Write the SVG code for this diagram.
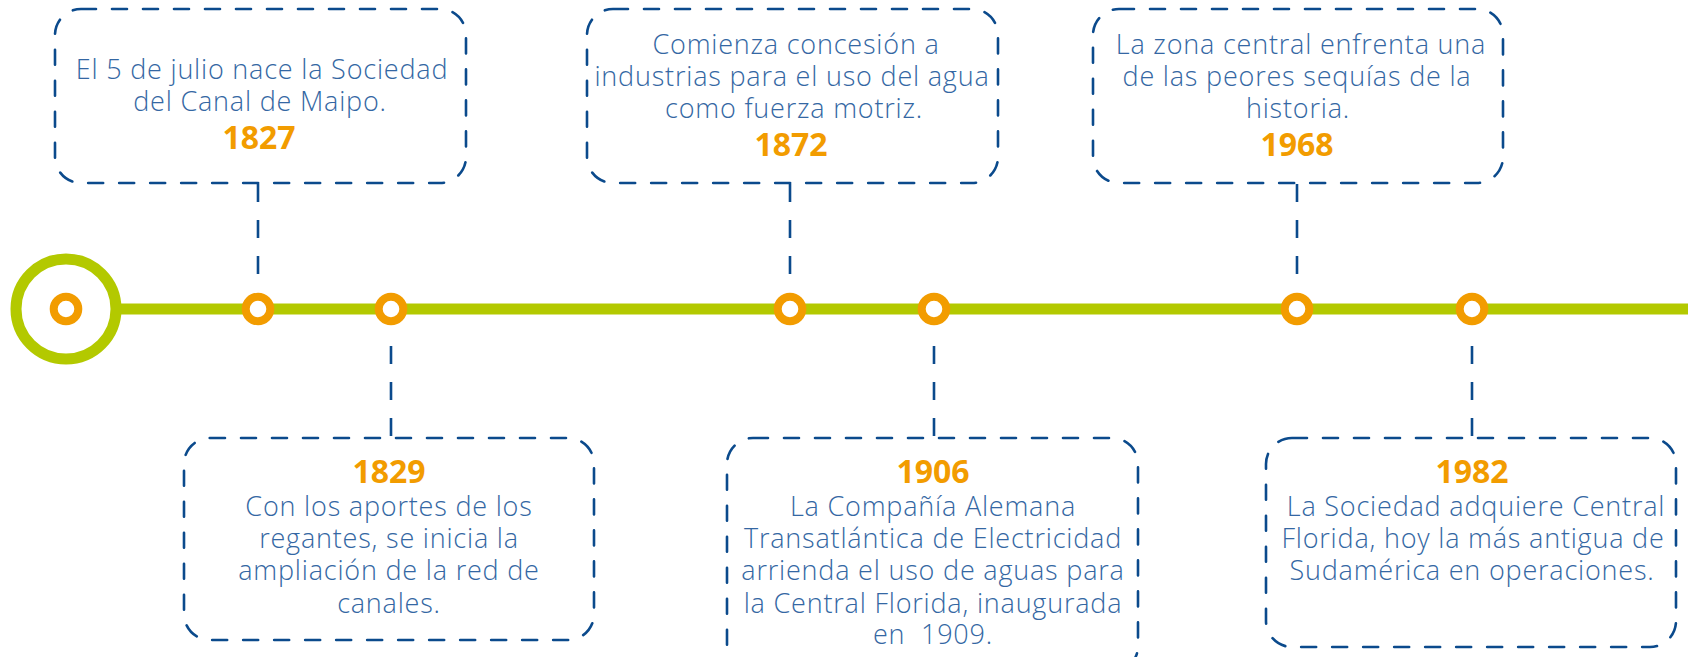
<svg xmlns="http://www.w3.org/2000/svg" width="1688" height="657" viewBox="0 0 1688 657">
<style>
.box{fill:none;stroke:#0b4a8c;stroke-width:2.6;stroke-dasharray:15 16;stroke-linecap:round}
.con{fill:none;stroke:#0b4a8c;stroke-width:2.6;stroke-dasharray:18 18}
.t{font-family:"Open Sans","Liberation Sans",sans-serif;font-weight:300;font-size:27px;letter-spacing:0.8px;fill:#3467a3;text-anchor:middle}
.y{font-family:"Open Sans","Liberation Sans",sans-serif;font-weight:700;font-size:32px;fill:#f29c00;text-anchor:middle}
.dot{fill:#fff;stroke:#f29c00;stroke-width:8}
</style>
<rect width="1688" height="657" fill="#fff"/>
<g id="timeline">
<line x1="116" y1="309" x2="1688" y2="309" stroke="#b3c900" stroke-width="11"/>
<circle cx="66" cy="309" r="50" fill="#fff" stroke="#b3c900" stroke-width="11"/>
<circle class="dot" cx="66" cy="309" r="12.3"/>
</g>
<g id="connectors">
<line class="con" x1="258" y1="184" x2="258" y2="274"/>
<line class="con" x1="790" y1="184" x2="790" y2="274"/>
<line class="con" x1="1297" y1="184" x2="1297" y2="274"/>
<line class="con" x1="391" y1="436" x2="391" y2="343"/>
<line class="con" x1="934" y1="436" x2="934" y2="343"/>
<line class="con" x1="1472" y1="436" x2="1472" y2="343"/>
</g>
<g id="n1827">
<circle class="dot" cx="258" cy="309" r="12.3"/>
<rect class="box" x="55" y="9" width="411" height="174" rx="26"/>
<text class="t" x="262" y="79">El 5 de julio nace la Sociedad</text>
<text class="t" x="260" y="111">del Canal de Maipo.</text>
<text class="y" x="259" y="149">1827</text>
</g>
<g id="n1829">
<circle class="dot" cx="391" cy="309" r="12.3"/>
<rect class="box" x="184" y="438" width="410" height="202" rx="26"/>
<text class="y" x="389" y="483">1829</text>
<text class="t" x="389" y="516">Con los aportes de los</text>
<text class="t" x="389" y="548">regantes, se inicia la</text>
<text class="t" x="389" y="580">ampliación de la red de</text>
<text class="t" x="389" y="613">canales.</text>
</g>
<g id="n1872">
<circle class="dot" cx="790" cy="309" r="12.3"/>
<rect class="box" x="587" y="9" width="411" height="174" rx="26"/>
<text class="t" x="796" y="54">Comienza concesión a</text>
<text class="t" x="792" y="86">industrias para el uso del agua</text>
<text class="t" x="794" y="118">como fuerza motriz.</text>
<text class="y" x="791" y="156">1872</text>
</g>
<g id="n1906">
<circle class="dot" cx="934" cy="309" r="12.3"/>
<rect class="box" x="727" y="438" width="411" height="234" rx="26"/>
<text class="y" x="933" y="483">1906</text>
<text class="t" x="933" y="516">La Compañía Alemana</text>
<text class="t" x="933" y="548">Transatlántica de Electricidad</text>
<text class="t" x="933" y="580">arrienda el uso de aguas para</text>
<text class="t" x="933" y="613">la Central Florida, inaugurada</text>
<text class="t" x="933" y="644" xml:space="preserve">en  1909.</text>
</g>
<g id="n1968">
<circle class="dot" cx="1297" cy="309" r="12.3"/>
<rect class="box" x="1093" y="9" width="410" height="174" rx="26"/>
<text class="t" x="1301" y="54">La zona central enfrenta una</text>
<text class="t" x="1297" y="86">de las peores sequías de la</text>
<text class="t" x="1298" y="118">historia.</text>
<text class="y" x="1297" y="156">1968</text>
</g>
<g id="n1982">
<circle class="dot" cx="1472" cy="309" r="12.3"/>
<rect class="box" x="1266" y="438" width="410" height="209" rx="26"/>
<text class="y" x="1472" y="483">1982</text>
<text class="t" x="1476" y="516">La Sociedad adquiere Central</text>
<text class="t" x="1473" y="548">Florida, hoy la más antigua de</text>
<text class="t" x="1472" y="580">Sudamérica en operaciones.</text>
</g>
</svg>
